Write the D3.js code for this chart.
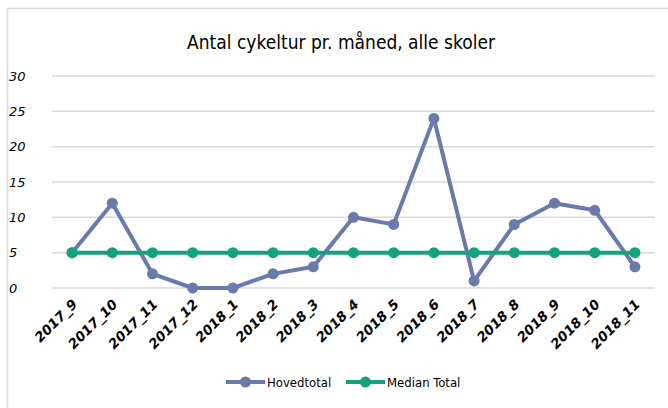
<!DOCTYPE html>
<html>
<head>
<meta charset="utf-8">
<script src="https://cdn.jsdelivr.net/npm/d3@7"></script>
<style>
  body { margin: 0; background: #fff; }
  svg { display: block; }
</style>
</head>
<body>
<div class="chart"></div>
<script>
var categories = ['2017_9', '2017_10', '2017_11', '2017_12', '2018_1', '2018_2', '2018_3',
    '2018_4', '2018_5', '2018_6', '2018_7', '2018_8', '2018_9', '2018_10', '2018_11'];
var hovedtotal = [5, 12, 2, 0, 0, 2, 3, 10, 9, 24, 1, 9, 12, 11, 3];
var medianTotal = [5, 5, 5, 5, 5, 5, 5, 5, 5, 5, 5, 5, 5, 5, 5];
var yTicks = [0, 5, 10, 15, 20, 25, 30];

var series = [
    { name: 'Hovedtotal', values: hovedtotal, color: '#6a7aab' },
    { name: 'Median Total', values: medianTotal, color: '#13a37b' }
];

var W = 668, H = 408;
var margin = { top: 76, right: 13, bottom: 120, left: 52 };
var width = W - margin.left - margin.right;
var height = H - margin.top - margin.bottom;

var root = d3.select('.chart')
    .append('svg')
    .attr('width', W)
    .attr('height', H);

// chart border (right/bottom edges fall outside the picture)
root.append('rect')
    .attr('x', 7.5).attr('y', 8.5)
    .attr('width', W).attr('height', H)
    .attr('fill', 'none')
    .attr('stroke', '#d9d9d9')
    .attr('stroke-width', 1.5);

root.append('text')
    .attr('x', 341).attr('y', 49)
    .attr('text-anchor', 'middle')
    .style('font-family', '"DejaVu Sans", sans-serif')
    .style('font-stretch', 'condensed')
    .style('font-size', '19px')
    .style('fill', '#000')
    .text('Antal cykeltur pr. måned, alle skoler');

var svg = root.append('g')
    .attr('transform', `translate(${margin.left}, ${margin.top})`);

var xScale = d3.scaleBand()
    .domain(categories)
    .range([0, width]);

var yScale = d3.scaleLinear()
    .domain([0, 30])
    .range([height, 0]);

// gridlines
svg.append('g')
    .selectAll('line')
    .data(yTicks)
    .enter()
    .append('line')
    .attr('x1', 0).attr('x2', width)
    .attr('y1', d => yScale(d)).attr('y2', d => yScale(d))
    .style('stroke', '#d9d9d9')
    .style('stroke-width', 1.5);

// y axis labels
var yAxis = svg.append('g')
    .call(d3.axisLeft(yScale).tickValues(yTicks).tickSize(0).tickPadding(20));
yAxis.select('.domain').remove();
yAxis.selectAll('text')
    .attr('text-anchor', 'start')
    .attr('x', -43)
    .style('font-family', '"DejaVu Sans", sans-serif')
    .style('font-style', 'italic')
    .style('font-size', '13px')
    .style('fill', '#000');

// x axis labels
var xAxis = svg.append('g')
    .attr('transform', `translate(0, ${height})`)
    .call(d3.axisBottom(xScale).tickSize(0));
xAxis.select('.domain').remove();
xAxis.selectAll('text')
    .attr('text-anchor', 'end')
    .attr('dy', 0)
    .attr('transform', 'translate(4, 15) rotate(-45)')
    .style('font-family', '"DejaVu Sans", sans-serif')
    .style('font-weight', 'bold')
    .style('font-style', 'italic')
    .style('font-size', '13.5px')
    .style('fill', '#000');

var xc = d => xScale(d) + xScale.bandwidth() / 2;

var line = d3.line()
    .x((d, i) => xc(categories[i]))
    .y(d => yScale(d));

series.forEach(function (s) {
    svg.append('path')
        .attr('d', line(s.values))
        .style('stroke', s.color)
        .style('stroke-width', 4)
        .style('stroke-linejoin', 'round')
        .style('fill', 'none');
    svg.append('g')
        .selectAll('circle')
        .data(s.values)
        .enter()
        .append('circle')
        .attr('cx', (d, i) => xc(categories[i]))
        .attr('cy', d => yScale(d))
        .attr('r', 5.5)
        .style('fill', s.color);
});

// legend
var legend = root.append('g').attr('transform', 'translate(226, 382)');
var legendX = [0, 120];
series.forEach(function (s, i) {
    var g = legend.append('g').attr('transform', `translate(${legendX[i]}, 0)`);
    g.append('line')
        .attr('x1', 0).attr('x2', 39)
        .attr('y1', 0).attr('y2', 0)
        .style('stroke', s.color)
        .style('stroke-width', 4);
    g.append('circle')
        .attr('cx', 19.5).attr('cy', 0).attr('r', 5.5)
        .style('fill', s.color);
    g.append('text')
        .attr('x', 41).attr('y', 5)
        .style('font-family', '"DejaVu Sans", sans-serif')
        .style('font-stretch', 'condensed')
        .style('font-size', '13px')
        .style('fill', '#000')
        .text(s.name);
});
</script>
</body>
</html>
